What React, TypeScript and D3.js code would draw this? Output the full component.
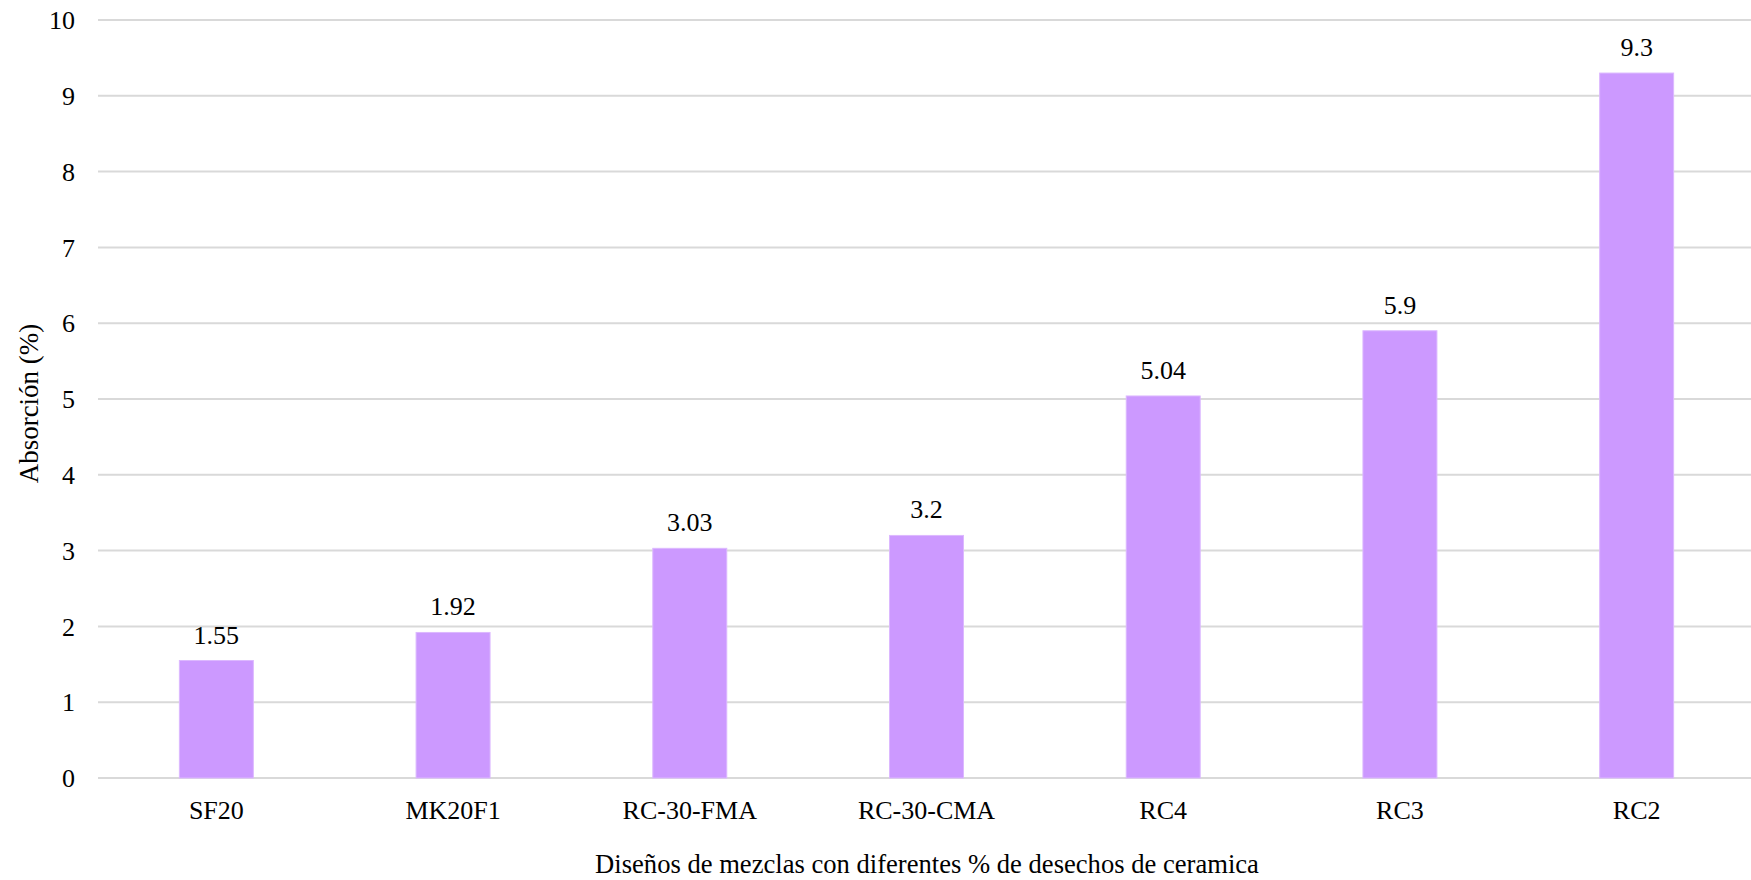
import React from "react";
import * as d3 from "d3";

const categories = ["SF20", "MK20F1", "RC-30-FMA", "RC-30-CMA", "RC4", "RC3", "RC2"];
const values = [1.55, 1.92, 3.03, 3.2, 5.04, 5.9, 9.3];
const valueLabels = ["1.55", "1.92", "3.03", "3.2", "5.04", "5.9", "9.3"];
const yTicks = [0, 1, 2, 3, 4, 5, 6, 7, 8, 9, 10];
const xTitle = "Diseños de mezclas con diferentes % de desechos de ceramica";
const yTitle = "Absorción (%)";

const W = 1751;
const H = 880;
const left = 98;
const right = 1755;
const top = 20;
const bottom = 778;
const font = '"Liberation Serif", "Times New Roman", Times, "DejaVu Serif", serif';
const ts: React.CSSProperties = { fontFamily: font, fontSize: "26px" };
const tsX: React.CSSProperties = { fontFamily: font, fontSize: "26.6px" };
const tsY: React.CSSProperties = { fontFamily: font, fontSize: "27px" };

export default function App() {
  const x = d3.scaleBand<string>().domain(categories).range([left, right]).paddingInner(0.6875).paddingOuter(0.34375);
  const y = d3.scaleLinear().domain([0, 10]).range([bottom, top]);
  return (
    <svg width={W} height={H} style={{ position: "absolute", left: 0, top: 0, background: "#fff" }}>
      {yTicks.map((t) => (
        <g key={t}>
          <line x1={left} x2={W} y1={y(t)} y2={y(t)} stroke="#d9d9d9" strokeWidth={2} />
          <text x={75} y={y(t)} dy="0.35em" textAnchor="end" style={ts} fill="#000">{t}</text>
        </g>
      ))}
      {categories.map((c, i) => (
        <g key={c}>
          <rect x={x(c)} y={y(values[i])} width={x.bandwidth()} height={y(0) - y(values[i])} fill="#cc99ff" stroke="#dcb8ff" strokeWidth={1} />
          <text x={(x(c) as number) + x.bandwidth() / 2} y={y(values[i]) - 17} textAnchor="middle" style={ts} fill="#000">{valueLabels[i]}</text>
          <text x={(x(c) as number) + x.bandwidth() / 2} y={819} textAnchor="middle" style={ts} fill="#000">{c}</text>
        </g>
      ))}
      <text x={927} y={873} textAnchor="middle" style={tsX} fill="#000">{xTitle}</text>
      <text transform={`translate(38, 403.5) rotate(-90)`} textAnchor="middle" style={tsY} fill="#000">{yTitle}</text>
    </svg>
  );
}
